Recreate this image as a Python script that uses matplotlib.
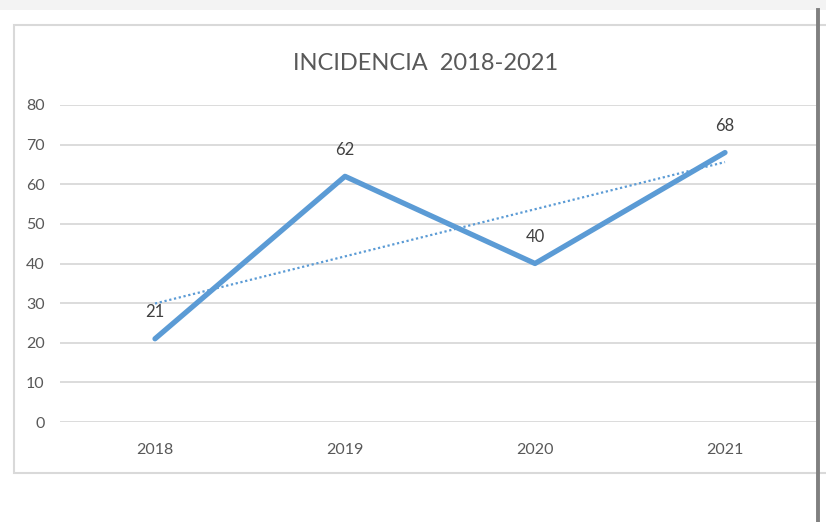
import numpy as np
import matplotlib
matplotlib.use('Agg')
import matplotlib.pyplot as plt
from matplotlib.patches import Rectangle
from matplotlib.lines import Line2D

plt.rcParams['font.family'] = ['Lato', 'DejaVu Sans']

# 데이터
years = ['2018', '2019', '2020', '2021']
incidencia = [21, 62, 40, 68]
y_ticks = [0, 10, 20, 30, 40, 50, 60, 70, 80]

blue = '#5B9BD5'
W, H = 826, 522

fig = plt.figure(figsize=(W / 100, H / 100), dpi=100)
fig.patch.set_facecolor('white')

# 스크린샷 테두리 느낌
fig.add_artist(Rectangle((0, 1 - 10 / H), 1, 10 / H, transform=fig.transFigure,
                         facecolor='#F3F3F3', edgecolor='none', zorder=0))
fig.add_artist(Rectangle((14 / W, 1 - 473 / H), 820 / W, 448 / H, transform=fig.transFigure,
                         facecolor='white', edgecolor='#D9D9D9', linewidth=1.5, zorder=0))
fig.add_artist(Line2D([818 / W, 818 / W], [0, 1 - 10 / H], transform=fig.transFigure,
                      color='#808080', linewidth=2.8, zorder=5))

ax = fig.add_axes([60 / W, 1 - 422 / H, 760 / W, 317 / H])
ax.set_facecolor('none')

x = np.arange(len(years))
ax.plot(x, incidencia, color=blue, linewidth=3.8, solid_capstyle='round', zorder=3)

# 선형 추세선
coef = np.polyfit(x, incidencia, 1)
ax.plot(x, np.polyval(coef, x), color=blue, linewidth=1.6, linestyle=(0, (1, 1.2)), zorder=2)

for xi, v in zip(x, incidencia):
    ax.annotate(str(v), (xi, v), xytext=(0, 19), textcoords='offset points',
                ha='center', va='center', fontsize=12, color='#404040')

ax.set_xlim(-0.5, len(years) - 0.5)
ax.set_ylim(0, 80)
ax.set_xticks(x)
ax.set_xticklabels(years)
ax.set_yticks(y_ticks)
ax.grid(axis='y', color='#D9D9D9', linewidth=1.3)
ax.set_axisbelow(True)
for s in ax.spines.values():
    s.set_visible(False)
ax.tick_params(axis='both', length=0, labelsize=11.5, labelcolor='#595959')
ax.tick_params(axis='y', pad=11)
ax.tick_params(axis='x', pad=15)

fig.text(426 / W, 1 - 63 / H, 'INCIDENCIA  2018-2021', ha='center', va='center',
         fontsize=17, color='#595959')

fig.savefig('out.png', dpi=100)
